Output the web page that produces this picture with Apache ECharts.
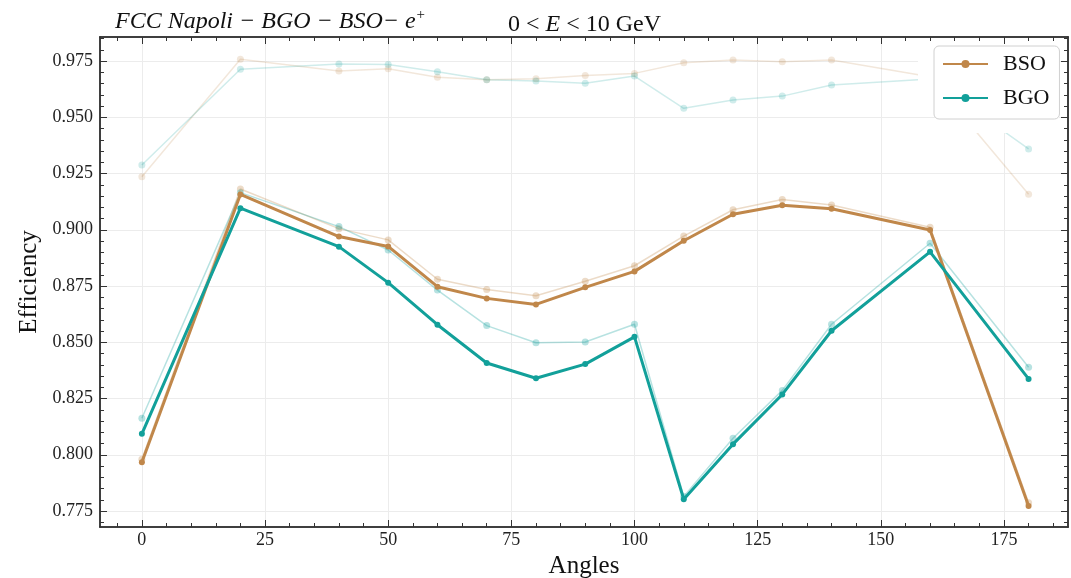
<!DOCTYPE html>
<html>
<head>
<meta charset="utf-8">
<script src="https://cdn.jsdelivr.net/npm/echarts@6/dist/echarts.min.js"></script>
<style>
html,body{margin:0;padding:0;background:#fff;}
#chart{width:1071px;height:578px;}
</style>
</head>
<body>
<div id="chart"></div>
<script>
// ---- data ----
var angles = [0, 20, 40, 50, 60, 70, 80, 90, 100, 110, 120, 130, 140, 160, 180];
var bso = [0.7967, 0.9157, 0.8970, 0.8926, 0.8747, 0.8695, 0.8668, 0.8744, 0.8815, 0.8951, 0.9069, 0.9109, 0.9093, 0.8999, 0.7772];
var bgo = [0.8093, 0.9096, 0.8925, 0.8765, 0.8578, 0.8408, 0.8340, 0.8403, 0.8524, 0.7802, 0.8047, 0.8268, 0.8551, 0.8902, 0.8337];
var bsoFaintLow = [0.7980, 0.9181, 0.9005, 0.8955, 0.8780, 0.8734, 0.8707, 0.8771, 0.8840, 0.8972, 0.9089, 0.9134, 0.9110, 0.9011, 0.7787];
var bgoFaintLow = [0.8162, 0.9165, 0.9014, 0.8910, 0.8732, 0.8574, 0.8498, 0.8501, 0.8580, 0.7815, 0.8073, 0.8286, 0.8580, 0.8940, 0.8389];
var bsoFaintHigh = [0.9236, 0.9758, 0.9706, 0.9716, 0.9678, 0.9667, 0.9671, 0.9686, 0.9695, 0.9742, 0.9754, 0.9747, 0.9754, 0.9680, 0.9158];
var bgoFaintHigh = [0.9288, 0.9713, 0.9737, 0.9734, 0.9702, 0.9667, 0.9661, 0.9651, 0.9683, 0.9540, 0.9577, 0.9594, 0.9643, 0.9670, 0.9359];
var xMajorTicks = [0, 25, 50, 75, 100, 125, 150, 175];
var xMinorTicks = [-5, 5, 10, 15, 20, 30, 35, 40, 45, 55, 60, 65, 70, 80, 85, 90, 95, 105, 110, 115, 120, 130, 135, 140, 145, 155, 160, 165, 170, 180, 185];
var yMajorTicks = [0.775, 0.800, 0.825, 0.850, 0.875, 0.900, 0.925, 0.950, 0.975];
var yMinorTicks = [0.770, 0.780, 0.785, 0.790, 0.795, 0.805, 0.810, 0.815, 0.820, 0.830, 0.835, 0.840, 0.845, 0.855, 0.860, 0.865, 0.870, 0.880, 0.885, 0.890, 0.895, 0.905, 0.910, 0.915, 0.920, 0.930, 0.935, 0.940, 0.945, 0.955, 0.960, 0.965, 0.970, 0.980, 0.985];

var X_MIN = -8.5, X_MAX = 188;
var Y_MIN = 0.76789, Y_MAX = 0.98567;
var FONT = "'Liberation Serif', 'DejaVu Serif', serif";
var C_BSO = '#C0874A', C_BGO = '#12A09A';
var AX = '#333333';

function pairs(ys) { return angles.map(function (a, i) { return [a, ys[i]]; }); }

function xAx(pos, ticks, len, labels, split, name, z) {
  var o = {
    type: 'value', position: pos, min: X_MIN, max: X_MAX, z: z || 0,
    axisLine: { show: true, onZero: false, lineStyle: { color: AX, width: 1.5 } },
    axisTick: { show: true, inside: true, length: len, customValues: ticks, lineStyle: { color: AX, width: 1 } },
    axisLabel: labels ? { show: true, customValues: ticks, fontFamily: FONT, fontSize: 18, color: '#222', margin: 4 } : { show: false },
    splitLine: { show: !!split, lineStyle: { color: '#ececec', width: 1 } },
    minorTick: { show: false }
  };
  if (name) {
    o.name = name; o.nameLocation = 'middle'; o.nameGap = 15;
    o.nameTextStyle = { fontFamily: FONT, fontSize: 25, color: '#111' };
  }
  return o;
}
function yAx(pos, ticks, len, labels, split, name, z) {
  var o = {
    type: 'value', position: pos, min: Y_MIN, max: Y_MAX, z: z || 0,
    axisLine: { show: true, onZero: false, lineStyle: { color: AX, width: 1.5 } },
    axisTick: { show: true, inside: true, length: len, customValues: ticks, lineStyle: { color: AX, width: 1 } },
    axisLabel: labels ? { show: true, customValues: ticks, fontFamily: FONT, fontSize: 18, color: '#222', margin: 7,
      formatter: function (v) { return v.toFixed(3); } } : { show: false },
    splitLine: { show: !!split, lineStyle: { color: '#ececec', width: 1 } },
    minorTick: { show: false }
  };
  if (name) {
    o.name = name; o.nameLocation = 'middle'; o.nameGap = 44;
    o.nameTextStyle = { fontFamily: FONT, fontSize: 25, color: '#111' };
  }
  return o;
}

function faint(name, data, color, op, z) {
  return {
    name: name, type: 'line', data: pairs(data), xAxisIndex: 0, yAxisIndex: 0,
    symbol: 'circle', symbolSize: 7, z: z,
    lineStyle: { color: color, width: 1.5, opacity: op },
    itemStyle: { color: color, opacity: op },
    emphasis: { disabled: true }, animation: false
  };
}
function main(name, data, color) {
  return {
    name: name, type: 'line', data: pairs(data), xAxisIndex: 0, yAxisIndex: 0,
    symbol: 'circle', symbolSize: 6, z: 5,
    lineStyle: { color: color, width: 3 },
    itemStyle: { color: color },
    emphasis: { disabled: true }, animation: false
  };
}

var chart = echarts.init(document.getElementById('chart'), null, { renderer: 'canvas' });
chart.setOption({
  animation: false,
  backgroundColor: '#ffffff',
  grid: { left: 100, right: 3, top: 37, bottom: 51, containLabel: false, outerBoundsMode: 'none' },
  title: [
    { left: 110, top: 3, text: '{a|FCC Napoli − BGO − BSO− e}{s|+}',
      textStyle: { fontWeight: 'normal', rich: {
        a: { fontFamily: FONT, fontStyle: 'italic', fontWeight: 'normal', fontSize: 24, color: '#111' },
        s: { fontFamily: FONT, fontWeight: 'normal', fontSize: 15, color: '#111', verticalAlign: 'top', padding: [0, 0, 12, 1] }
      } } },
    { left: 503, top: 8, text: '{n|0 < }{i|E}{n| < 10 GeV}',
      textStyle: { fontWeight: 'normal', rich: {
        n: { fontFamily: FONT, fontWeight: 'normal', fontSize: 24, color: '#111' },
        i: { fontFamily: FONT, fontStyle: 'italic', fontWeight: 'normal', fontSize: 24, color: '#111' }
      } } }
  ],
  graphic: [
    { type: 'rect', z: 8, silent: true, shape: { x: 918, y: 38, width: 141, height: 72 }, style: { fill: '#ffffff' } },
    { type: 'rect', z: 8, silent: true, shape: { x: 958, y: 109, width: 101, height: 24 }, style: { fill: '#ffffff' } }
  ],
  legend: {
    data: ['BSO', 'BGO'], orient: 'vertical', left: 934, top: 46,
    backgroundColor: '#ffffff', borderColor: '#d0d0d0', borderWidth: 1, borderRadius: 5,
    padding: [7, 10, 10, 8], itemWidth: 45, itemHeight: 10, itemGap: 12,
    textStyle: { fontFamily: FONT, fontSize: 22, color: '#111', padding: [0, 0, 0, 10] },
    selectedMode: false, z: 12
  },
  xAxis: [
    xAx('bottom', xMajorTicks, 7, true, true, 'Angles'),
    xAx('bottom', xMinorTicks, 4, false, false),
    xAx('top', xMajorTicks, 7, false, false, null, 10),
    xAx('top', xMinorTicks, 4, false, false, null, 10)
  ],
  yAxis: [
    yAx('left', yMajorTicks, 7, true, true, 'Efficiency'),
    yAx('left', yMinorTicks, 4, false, false),
    yAx('right', yMajorTicks, 7, false, false, null, 10),
    yAx('right', yMinorTicks, 4, false, false, null, 10)
  ],
  series: [
    faint('BSO high', bsoFaintHigh, C_BSO, 0.2, 2),
    faint('BGO high', bgoFaintHigh, C_BGO, 0.2, 2),
    faint('BSO low', bsoFaintLow, C_BSO, 0.3, 3),
    faint('BGO low', bgoFaintLow, C_BGO, 0.3, 3),
    main('BSO', bso, C_BSO),
    main('BGO', bgo, C_BGO)
  ]
});
</script>
</body>
</html>
